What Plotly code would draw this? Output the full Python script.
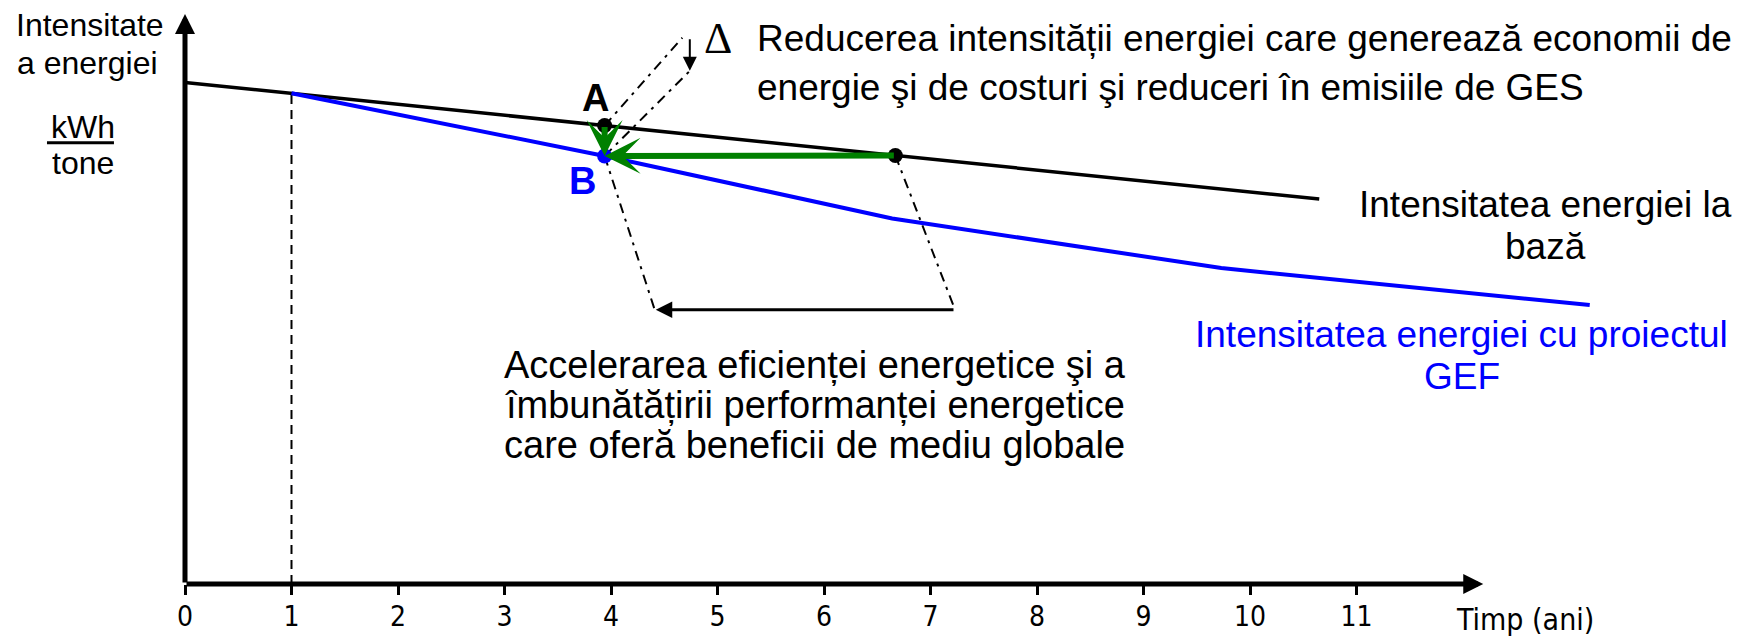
import plotly.graph_objects as go

# ---------------- data ----------------
year_ticks = [0, 1, 2, 3, 4, 5, 6, 7, 8, 9, 10, 11]
year_labels = [str(v) for v in year_ticks]

# baseline energy intensity (black)
baseline_x = [0.0, 10.65]
baseline_y = [88.0, 67.53]

# energy intensity with the GEF project (blue)
gef_x = [1.0, 3.94, 6.64, 9.73, 13.19]
gef_y = [86.1, 75.1, 64.13, 55.43, 48.93]

# key points
point_a = [3.94, 80.43]   # A on baseline
point_b = [3.94, 75.1]    # B on GEF curve
point_c = [6.67, 75.18]   # baseline point with same intensity as B

# project start (dashed vertical at year 1)
start_x = [1.0, 1.0]
start_y = [0.0, 86.1]

# delta (reduction) construction lines
delta_upper_x = [3.94, 4.67]
delta_upper_y = [80.43, 95.83]
delta_lower_x = [3.94, 4.74]
delta_lower_y = [75.1, 90.03]
delta_arrow_x = 4.74
delta_arrow_y = [95.83, 90.03]

# acceleration construction lines
accel_left_x = [3.94, 4.41]
accel_left_y = [75.1, 48.13]
accel_right_x = [6.67, 7.23]
accel_right_y = [75.18, 48.13]
accel_arrow_x = [7.23, 4.42]
accel_arrow_y = 48.13

axis_x_end = 12.19
axis_y_end = 100.0

# ---------------- styling ----------------
BLACK = "#000000"
BLUE = "#0000FF"
GREEN = "#008000"
FONT = "Liberation Sans, Arial, sans-serif"
NARROW = "Liberation Sans Narrow, Arial Narrow, DejaVu Sans Condensed, Liberation Sans, sans-serif"
DASHDOT = "10px,6px,3px,6px"

fig = go.Figure()

fig.add_trace(go.Scatter(x=start_x, y=start_y, mode="lines",
                         line=dict(color=BLACK, width=2, dash="9px,6px"), hoverinfo="skip"))
for xs, ys in [(delta_upper_x, delta_upper_y), (delta_lower_x, delta_lower_y),
               (accel_left_x, accel_left_y), (accel_right_x, accel_right_y)]:
    fig.add_trace(go.Scatter(x=xs, y=ys, mode="lines",
                             line=dict(color=BLACK, width=2, dash=DASHDOT), hoverinfo="skip"))

fig.add_trace(go.Scatter(x=baseline_x, y=baseline_y, mode="lines",
                         line=dict(color=BLACK, width=3.5), name="baseline"))
fig.add_trace(go.Scatter(x=gef_x, y=gef_y, mode="lines",
                         line=dict(color=BLUE, width=4), name="GEF"))

annotations = []

def arrow(x0, y0, x1, y1, color, width, head, size):
    annotations.append(dict(x=x1, y=y1, ax=x0, ay=y0, xref="x", yref="y",
                            axref="x", ayref="y", text="", showarrow=True,
                            arrowhead=head, arrowsize=size, arrowwidth=width,
                            arrowcolor=color, standoff=0, startstandoff=0))

# axes with arrowheads
arrow(0, 0, 0, axis_y_end, BLACK, 5, 2, 0.8)
arrow(0, 0, axis_x_end, 0, BLACK, 5, 2, 0.8)
# green arrows into B
arrow(point_a[0], point_a[1], point_b[0], point_b[1], GREEN, 6, 3, 1.0)
arrow(point_c[0], point_c[1], point_b[0], point_b[1], GREEN, 6, 3, 1.0)
# delta small arrow
arrow(delta_arrow_x, delta_arrow_y[0], delta_arrow_x, delta_arrow_y[1], BLACK, 2, 2, 1.4)
# acceleration arrow
arrow(accel_arrow_x[0], accel_arrow_y, accel_arrow_x[1], accel_arrow_y, BLACK, 3, 2, 1.1)

fig.add_trace(go.Scatter(x=[point_a[0], point_c[0]], y=[point_a[1], point_c[1]], mode="markers",
                         marker=dict(color=BLACK, size=15), hoverinfo="skip"))
fig.add_trace(go.Scatter(x=[point_b[0]], y=[point_b[1]], mode="markers",
                         marker=dict(color=BLUE, size=15), hoverinfo="skip"))

def text(x, y, s, size=37, color=BLACK, xanchor="center", family=FONT, yref="y", bold=False):
    annotations.append(dict(x=x, y=y, xref="x", yref=yref, text=("<b>%s</b>" % s) if bold else s,
                            showarrow=False, xanchor=xanchor, yanchor="middle",
                            font=dict(family=family, size=size, color=color)))

# top-left axis title
text(-0.892, 98.03, "Intensitate", size=32)
text(-0.911, 91.43, "a energiei", size=32)
text(-0.958, 80.23, "kWh", size=32)
text(-0.958, 73.83, "tone", size=32)

# point labels
text(3.85, 85.23, "A", size=38, bold=True)
text(3.737, 70.73, "B", size=38, color=BLUE, bold=True)

# delta explanation
text(5.005, 95.63, "\u0394", size=44, family="Liberation Serif, Times New Roman, serif")
text(5.352, 95.7, "Reducerea intensității energiei care generează economii de", xanchor="left")
text(5.352, 87.15, "energie şi de costuri şi reduceri în emisiile de GES", xanchor="left")

# series labels
text(12.77, 66.63, "Intensitatea energiei la")
text(12.77, 59.13, "bază")
text(11.99, 43.73, "Intensitatea energiei cu proiectul", color=BLUE)
text(11.99, 36.33, "GEF", color=BLUE)

# acceleration explanation
text(5.915, 38.43, "Accelerarea eficienței energetice şi a", size=38)
text(5.915, 31.43, "îmbunătățirii performanței energetice", size=38)
text(5.915, 24.43, "care oferă beneficii de mediu globale", size=38)

# x-axis title
text(12.58, -0.06, "Timp (ani)", size=30, family=NARROW, yref="paper")

fig.update_layout(
    width=1749, height=640,
    margin=dict(l=0, r=0, t=0, b=56, pad=0),
    paper_bgcolor="white", plot_bgcolor="white",
    showlegend=False,
    annotations=annotations,
    shapes=[dict(type="line", xref="x", yref="y", x0=-1.296, x1=-0.667, y0=77.43, y1=77.43,
                 line=dict(color=BLACK, width=3))],
)
fig.update_xaxes(range=[-185 / 106.5, (1749 - 185) / 106.5], showgrid=False, zeroline=False,
                 showline=False, tickvals=year_ticks, ticktext=year_labels, ticks="outside",
                 ticklen=10, tickwidth=3, tickcolor=BLACK, ticklabelstandoff=-3,
                 tickfont=dict(family=NARROW, size=28, color=BLACK), fixedrange=True)
fig.update_yaxes(range=[0, 584 / 5.7], visible=False, fixedrange=True)

fig.write_html("out.html", config={"displayModeBar": False},
               post_script="document.body.style.margin='0px';document.body.style.overflow='hidden';")
